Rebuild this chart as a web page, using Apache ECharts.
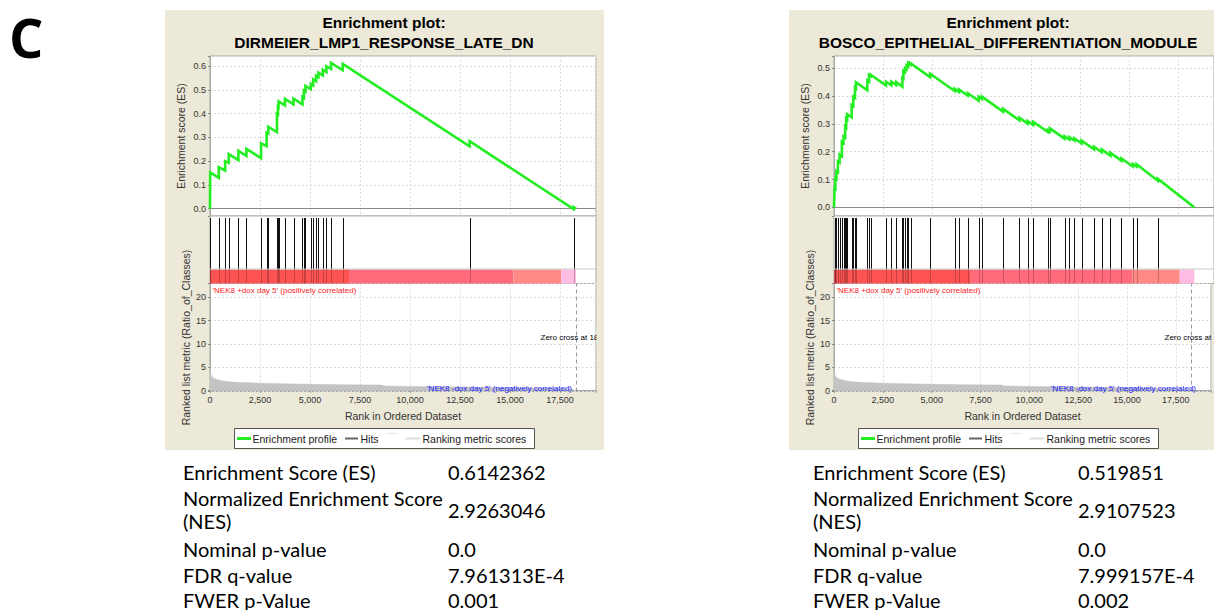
<!DOCTYPE html>
<html>
<head>
<meta charset="utf-8">
<script src="https://cdn.jsdelivr.net/npm/echarts@6/dist/echarts.min.js"></script>
<style>
html, body { margin: 0; padding: 0; background: #fff; }
#chart { width: 1214px; height: 610px; }
</style>
</head>
<body>
<div id="chart"></div>
<script>
// ---- data -------------------------------------------------------------
const geneSets = ['DIRMEIER_LMP1_RESPONSE_LATE_DN', 'BOSCO_EPITHELIAL_DIFFERENTIATION_MODULE'];

// ranked gene list shared by both gene sets
const datasetSize = 18300;
const zeroCrossRank = 18300;
const metricRanks = [0, 10, 40, 100, 200, 400, 700, 1100, 1600, 2500, 3500, 5000, 6500, 8600, 8700, 10000, 12500, 15000, 17000, 18000, 18300];
const metricValues = [5.4, 4.5, 3.5, 3.0, 2.6, 2.3, 2.05, 1.85, 1.75, 1.6, 1.5, 1.37, 1.28, 1.2, 1.0, 0.9, 0.8, 0.65, 0.5, 0.3, 0.1];

// correlation heat bar: segment start / end ranks
const barStarts = [0, 140, 6950, 15170, 17560];
const barEnds = [140, 6950, 15170, 17560, 18300];

// DIRMEIER_LMP1_RESPONSE_LATE_DN: hit ranks, running ES just before / after each hit
const hitsA = [10, 438, 757, 937, 1420, 1819, 2551, 2830, 2915, 3348, 3398, 3428, 3747, 4175, 4624, 4694, 4773, 5042, 5157, 5306, 5421, 5640, 5820, 6054, 6637, 12980, 18180];
const esBeforeA = [0, 0.13, 0.16, 0.193, 0.204, 0.222, 0.213, 0.263, 0.316, 0.322, 0.397, 0.428, 0.435, 0.439, 0.439, 0.466, 0.493, 0.503, 0.519, 0.537, 0.554, 0.561, 0.575, 0.588, 0.583, 0.262, -0.002];
const esAfterA = [0.153, 0.175, 0.2, 0.23, 0.243, 0.252, 0.275, 0.32, 0.345, 0.4, 0.43, 0.452, 0.462, 0.463, 0.47, 0.497, 0.517, 0.525, 0.545, 0.56, 0.573, 0.585, 0.6, 0.6142362, 0.61, 0.284, 0.0066];

// BOSCO_EPITHELIAL_DIFFERENTIATION_MODULE
const hitsB = [30, 70, 120, 199, 284, 399, 484, 568, 618, 668, 897, 982, 1066, 1116, 1694, 1779, 1863, 2641, 2910, 3159, 3473, 3523, 3607, 3687, 3772, 3886, 4883, 6129, 6348, 6796, 7344, 7509, 8590, 9417, 9836, 10115, 10862, 10962, 11709, 11958, 12207, 12576, 13204, 13602, 14036, 14599, 15182, 15366, 16442];
const esBeforeB = [-0.001, 0.068, 0.103, 0.126, 0.161, 0.184, 0.232, 0.251, 0.287, 0.317, 0.324, 0.364, 0.394, 0.427, 0.421, 0.452, 0.472, 0.438, 0.439, 0.44, 0.434, 0.463, 0.486, 0.496, 0.506, 0.514, 0.468, 0.418, 0.415, 0.402, 0.383, 0.39, 0.344, 0.313, 0.301, 0.296, 0.271, 0.273, 0.247, 0.244, 0.24, 0.23, 0.209, 0.198, 0.186, 0.168, 0.147, 0.147, 0.096];
const esAfterB = [0.07, 0.105, 0.13, 0.165, 0.19, 0.236, 0.255, 0.29, 0.32, 0.335, 0.368, 0.398, 0.43, 0.45, 0.456, 0.476, 0.477, 0.452, 0.452, 0.45, 0.465, 0.49, 0.5, 0.51, 0.519851, 0.518, 0.48, 0.426, 0.424, 0.41, 0.398, 0.398, 0.354, 0.322, 0.31, 0.308, 0.278, 0.284, 0.256, 0.252, 0.248, 0.24, 0.218, 0.208, 0.196, 0.176, 0.156, 0.155, 0.103];

// summary statistics
const statNames = ['Enrichment Score (ES)', 'Normalized Enrichment Score', 'Nominal p-value', 'FDR q-value', 'FWER p-Value'];
const statsA = ['0.6142362', '2.9263046', '0.0', '7.961313E-4', '0.001'];
const statsB = ['0.519851', '2.9107523', '0.0', '7.999157E-4', '0.002'];

const classPos = "'NEK8 +dox day 5' (positively correlated)";
const classNeg = "'NEK8 -dox day 5' (negatively correlated)";

// ---- styling ----------------------------------------------------------
const BEIGE = '#ece9d8';
const GREEN = '#22ee22';
const BAR_COLORS = ['#e94444', '#ff5353', '#ff6b7a', '#ff8a85', '#ffbce2'];
const UI_FONT = 'Liberation Sans, Arial, sans-serif';
const X_MAX = 19300;
const BAR_H = 14;
const PANEL_DX = 624;
const TABLE_DX = 630;

const grids = [], xAxes = [], yAxes = [], series = [], graphics = [];

const dashed = { show: true, lineStyle: { color: '#dcdcdc', type: [2, 2], width: 1 } };
const tickLabelStyle = { fontFamily: UI_FONT, fontSize: 9, color: '#333' };
const xFmt = v => (v % 2500 === 0 ? v.toLocaleString('en-US') : '');

function esLine(hits, before, after) {
  const pts = [[0, 0]];
  hits.forEach((r, i) => { pts.push([r, before[i]]); pts.push([r, after[i]]); });
  pts.push([datasetSize, 0]);
  return pts;
}

function addPanel(p, cfg) {
  const dx = p * PANEL_DX;
  const L = 210 + dx, W = 386;
  const g0 = grids.length;

  // background panel
  graphics.push({ type: 'rect', z: -100, shape: { x: 165 + dx, y: 10, width: 439, height: 440 }, style: { fill: BEIGE } });

  // ES panel
  grids.push({ left: L, top: 56, width: W, height: 160, show: true, backgroundColor: '#fff', borderColor: '#a8a8a8', borderWidth: 1 });
  // hits + heat bar
  grids.push({ left: L, top: 216, width: W, height: 67.5, show: true, backgroundColor: '#fff', borderColor: '#a8a8a8', borderWidth: 1 });
  // ranked list metric
  grids.push({ left: L, top: 283.5, width: W, height: 108, show: true, backgroundColor: '#fff', borderColor: '#a8a8a8', borderWidth: 1 });

  xAxes.push({ gridIndex: g0, type: 'value', min: 0, max: X_MAX, interval: 2500,
    axisLine: { show: false }, axisTick: { show: false }, axisLabel: { show: false }, splitLine: dashed });
  xAxes.push({ gridIndex: g0 + 1, type: 'value', min: 0, max: X_MAX, show: false, splitLine: { show: false } });
  xAxes.push({ gridIndex: g0 + 2, type: 'value', min: 0, max: X_MAX, interval: 2500,
    axisLine: { show: true, lineStyle: { color: '#a8a8a8' } },
    axisTick: { show: true, length: 2, lineStyle: { color: '#888' } },
    axisLabel: Object.assign({ formatter: xFmt, margin: 4 }, tickLabelStyle),
    splitLine: dashed,
    name: 'Rank in Ordered Dataset', nameLocation: 'middle', nameGap: 19,
    nameTextStyle: { fontFamily: UI_FONT, fontSize: 10.5, color: '#333' } });

  yAxes.push({ gridIndex: g0, type: 'value', min: cfg.esMin, max: cfg.esMax, minInterval: 0.1, maxInterval: 0.1,
    axisLine: { show: true, lineStyle: { color: '#a8a8a8' } },
    axisTick: { show: true, length: 2, lineStyle: { color: '#888' } },
    axisLabel: Object.assign({ margin: 4, formatter: v => { const k = Math.round(v * 10); return Math.abs(v * 10 - k) < 1e-6 ? (k / 10).toFixed(1) : ''; } }, tickLabelStyle),
    splitLine: dashed,
    name: 'Enrichment score (ES)', nameLocation: 'middle', nameGap: 24, nameRotate: 90,
    nameTextStyle: { fontFamily: UI_FONT, fontSize: 10.5, color: '#333' } });
  yAxes.push({ gridIndex: g0 + 1, type: 'value', min: 0, max: 1, show: false, splitLine: { show: false } });
  yAxes.push({ gridIndex: g0 + 2, type: 'value', min: -0.17, max: 22.95, minInterval: 5, maxInterval: 5,
    axisLine: { show: true, lineStyle: { color: '#a8a8a8' } },
    axisTick: { show: true, length: 2, lineStyle: { color: '#888' } },
    axisLabel: Object.assign({ margin: 4, formatter: v => (Number.isInteger(v) && v % 5 === 0 ? String(v) : '') }, tickLabelStyle),
    splitLine: dashed,
    name: 'Ranked list metric (Ratio_of_Classes)', nameLocation: 'middle', nameGap: 19, nameRotate: 90,
    nameTextStyle: { fontFamily: UI_FONT, fontSize: 10.5, color: '#333' } });

  // enrichment profile
  series.push({ type: 'line', xAxisIndex: g0, yAxisIndex: g0, data: esLine(cfg.hits, cfg.before, cfg.after),
    showSymbol: false, silent: true, z: 5,
    lineStyle: { color: GREEN, width: 2.6, join: 'miter' },
    markLine: { silent: true, symbol: 'none', label: { show: false }, animation: false,
      lineStyle: { color: '#8a8a8a', type: 'solid', width: 1 }, data: [{ yAxis: 0 }] } });

  // heat bar
  series.push({ type: 'custom', xAxisIndex: g0 + 1, yAxisIndex: g0 + 1, silent: true, z: 2,
    data: barStarts.map((s, i) => [s, barEnds[i], i]),
    renderItem: (params, api) => {
      const cs = params.coordSys;
      const x0 = api.coord([api.value(0), 0])[0];
      const x1 = api.coord([api.value(1), 0])[0];
      return { type: 'rect', shape: { x: x0, y: cs.y + cs.height - BAR_H, width: x1 - x0, height: BAR_H },
        style: { fill: BAR_COLORS[api.value(2)] } };
    } });

  // hits
  series.push({ type: 'custom', xAxisIndex: g0 + 1, yAxisIndex: g0 + 1, silent: true, z: 3,
    data: cfg.hits.map(r => [r, 0]),
    renderItem: (params, api) => {
      const cs = params.coordSys;
      const x = Math.round(api.coord([api.value(0), 0])[0]) + 0.5;
      const barTop = cs.y + cs.height - BAR_H;
      return { type: 'group', children: [
        { type: 'line', shape: { x1: x, y1: cs.y + 2, x2: x, y2: barTop }, style: { stroke: '#111', lineWidth: 1 } },
        { type: 'line', shape: { x1: x, y1: barTop, x2: x, y2: cs.y + cs.height }, style: { stroke: 'rgba(0,0,0,0.22)', lineWidth: 1 } }
      ] };
    } });

  // ranking metric scores
  series.push({ type: 'line', xAxisIndex: g0 + 2, yAxisIndex: g0 + 2,
    data: metricRanks.map((r, i) => [r, metricValues[i]]),
    showSymbol: false, silent: true, z: 2,
    lineStyle: { width: 0.5, color: '#bdbdbd' }, areaStyle: { color: '#c4c4c4', opacity: 1 },
    markLine: { silent: true, symbol: 'none', label: { show: false }, animation: false,
      lineStyle: { color: '#9a9a9a', type: [4, 3], width: 1 }, data: [{ xAxis: zeroCrossRank }] } });

  // separator above the heat bar
  graphics.push({ type: 'line', z: 10, shape: { x1: L, y1: 283.5 - BAR_H - 0.5, x2: L + W, y2: 283.5 - BAR_H - 0.5 }, style: { stroke: '#c8c8c8', lineWidth: 1 } });

  // title
  const cx = 384 + dx;
  graphics.push({ type: 'text', z: 10, x: cx, y: 22, style: { text: 'Enrichment plot:', font: 'bold 15.5px ' + UI_FONT, fill: '#000', textAlign: 'center', textVerticalAlign: 'middle' } });
  graphics.push({ type: 'text', z: 10, x: cx, y: 42, style: { text: cfg.title, font: 'bold 15.5px ' + UI_FONT, fill: '#000', textAlign: 'center', textVerticalAlign: 'middle' } });

  // class labels inside the metric panel
  graphics.push({ type: 'text', z: 10, x: L + 2.5, y: 290, style: { text: classPos, font: '8px ' + UI_FONT, fill: '#f22', textAlign: 'left', textVerticalAlign: 'middle' } });
  graphics.push({ type: 'text', z: 10, x: L + 362, y: 388, style: { text: classNeg, font: '8px ' + UI_FONT, fill: '#22f', textAlign: 'right', textVerticalAlign: 'middle' } });
  graphics.push({ type: 'text', z: 10, x: L + 330.5, y: 337.5, style: { text: 'Zero cross at ' + zeroCrossRank, font: '8px ' + UI_FONT, fill: '#000', textAlign: 'left', textVerticalAlign: 'middle' } });
  // plot frame clips the zero-cross note on the right
  graphics.push({ type: 'rect', z: 11, shape: { x: L + W + 0.5, y: 330, width: 604 + dx - (L + W + 0.5), height: 15 }, style: { fill: BEIGE } });
  graphics.push({ type: 'rect', z: 11, shape: { x: 604 + dx, y: 330, width: 30, height: 15 }, style: { fill: '#fff' } });

  // legend
  const lx = 234 + dx, ly = 428;
  graphics.push({ type: 'rect', z: 10, shape: { x: lx + 0.5, y: ly + 0.5, width: 300, height: 20 }, style: { fill: '#fff', stroke: '#555', lineWidth: 1 } });
  graphics.push({ type: 'line', z: 11, shape: { x1: lx + 3, y1: ly + 10.5, x2: lx + 17, y2: ly + 10.5 }, style: { stroke: GREEN, lineWidth: 3 } });
  graphics.push({ type: 'text', z: 11, x: lx + 18.5, y: ly + 10.5, style: { text: 'Enrichment profile', font: '10.5px ' + UI_FONT, fill: '#222', textVerticalAlign: 'middle' } });
  graphics.push({ type: 'line', z: 11, shape: { x1: lx + 111, y1: ly + 10.5, x2: lx + 124, y2: ly + 10.5 }, style: { stroke: '#666', lineWidth: 2 } });
  graphics.push({ type: 'text', z: 11, x: lx + 126.5, y: ly + 10.5, style: { text: 'Hits', font: '10.5px ' + UI_FONT, fill: '#222', textVerticalAlign: 'middle' } });
  graphics.push({ type: 'line', z: 11, shape: { x1: lx + 153, y1: ly + 5.5, x2: lx + 163, y2: ly + 5.5 }, style: { stroke: '#e4e4e4', lineWidth: 1 } });
  graphics.push({ type: 'line', z: 11, shape: { x1: lx + 172, y1: ly + 10.5, x2: lx + 186, y2: ly + 10.5 }, style: { stroke: '#dcdcdc', lineWidth: 2 } });
  graphics.push({ type: 'text', z: 11, x: lx + 188.5, y: ly + 10.5, style: { text: 'Ranking metric scores', font: '10.5px ' + UI_FONT, fill: '#222', textVerticalAlign: 'middle' } });

  // statistics table
  const tdx = p * TABLE_DX;
  const sx = 183 + tdx, vx = 448 + tdx;
  const statFont = '20px Lato, sans-serif';
  const rowY = [472, 498, 549, 575, 600];
  statNames.forEach((name, i) => {
    graphics.push({ type: 'text', z: 10, x: sx, y: rowY[i], style: { text: name, font: statFont, fill: '#000', textVerticalAlign: 'middle' } });
    graphics.push({ type: 'text', z: 10, x: vx, y: i === 1 ? 510 : rowY[i], style: { text: cfg.stats[i], font: statFont, fill: '#000', textVerticalAlign: 'middle' } });
  });
  graphics.push({ type: 'text', z: 10, x: sx, y: 521, style: { text: '(NES)', font: statFont, fill: '#000', textVerticalAlign: 'middle' } });
}

addPanel(0, { title: geneSets[0], hits: hitsA, before: esBeforeA, after: esAfterA, stats: statsA, esMin: -0.031, esMax: 0.643 });
addPanel(1, { title: geneSets[1], hits: hitsB, before: esBeforeB, after: esAfterB, stats: statsB, esMin: -0.031, esMax: 0.544 });

// figure panel letter
graphics.push({ type: 'text', z: 10, x: 9, y: 37, style: { text: 'C', font: 'bold 54px "Open Sans", sans-serif', fill: '#000', textVerticalAlign: 'middle' } });

const chart = echarts.init(document.getElementById('chart'), null, { renderer: 'svg', width: 1214, height: 610 });
chart.setOption({
  animation: false,
  backgroundColor: '#fff',
  grid: grids,
  xAxis: xAxes,
  yAxis: yAxes,
  series: series,
  graphic: graphics
});
</script>
</body>
</html>
